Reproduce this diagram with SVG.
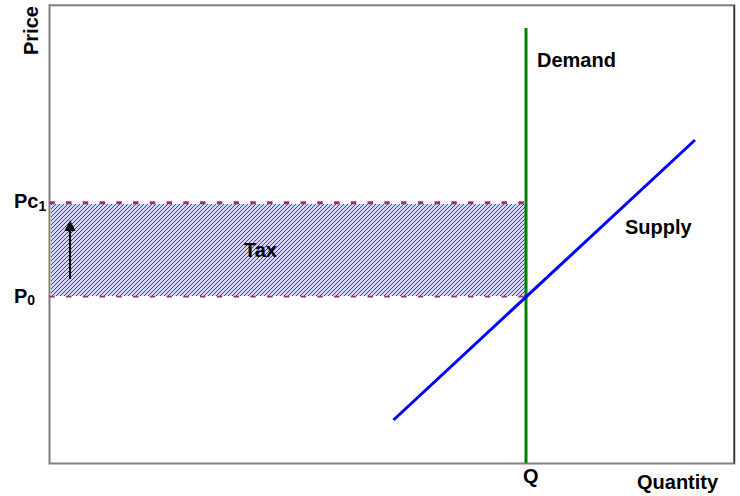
<svg xmlns="http://www.w3.org/2000/svg" width="740" height="496" viewBox="0 0 740 496">
<style>
  text { font-family: "Liberation Sans", Arial, sans-serif; font-weight: bold; fill: #000; }
  .lbl { font-size: 20px; }
  .sub { font-size: 14px; }
  .dash { stroke: #993366; fill: none; stroke-dasharray: 5.5 11.25; }
</style>
<defs>
  <pattern id="hatch" x="0" y="0" width="4" height="4" patternUnits="userSpaceOnUse">
    <rect width="4" height="4" fill="#d4d4ff"/>
    <path d="M3,0h1v1h-1z M2,1h1v1h-1z M1,2h1v1h-1z M0,3h1v1h-1z" fill="#3434ff" shape-rendering="crispEdges"/>
  </pattern>
</defs>

<g id="frame">
  <rect x="49.5" y="5.3" width="684.8" height="458.2" fill="#fff" stroke="#7f7f7f" stroke-width="2"/>
  <line x1="734.3" y1="5.3" x2="734.3" y2="463.5" stroke="#333" stroke-width="1.5"/>
</g>

<g id="tax-area">
  <rect x="51" y="204" width="474" height="92" fill="url(#hatch)" shape-rendering="crispEdges"/>
  <line class="dash" x1="49.3" y1="202.8" x2="526" y2="202.8" stroke-width="3"/>
  <line class="dash" x1="49.3" y1="296.7" x2="526" y2="296.7" stroke-width="1.8"/>
  <text class="lbl" x="244" y="257">Tax</text>
</g>

<g id="connectors">
  <line id="demand-line" x1="526" y1="28" x2="526" y2="463" stroke="#008000" stroke-width="3"/>
  <line id="supply-line" x1="393.5" y1="420" x2="695" y2="140" stroke="#0000ff" stroke-width="3"/>
  <line id="tax-arrow" x1="70" y1="279" x2="70" y2="230" stroke="#000" stroke-width="2.2"/>
  <polygon points="64.5,231 75.5,231 70,220" fill="#000"/>
</g>

<g id="labels">
  <text class="lbl" transform="translate(37.5,55) rotate(-90)">Price</text>
  <text class="lbl" x="14" y="208">Pc<tspan class="sub" dy="3">1</tspan></text>
  <text class="lbl" x="14" y="303">P<tspan class="sub" dy="2">0</tspan></text>
  <text class="lbl" x="537" y="66.5">Demand</text>
  <text class="lbl" x="625" y="234">Supply</text>
  <text class="lbl" x="523" y="482.5">Q</text>
  <text class="lbl" x="637" y="489">Quantity</text>
</g>
</svg>
